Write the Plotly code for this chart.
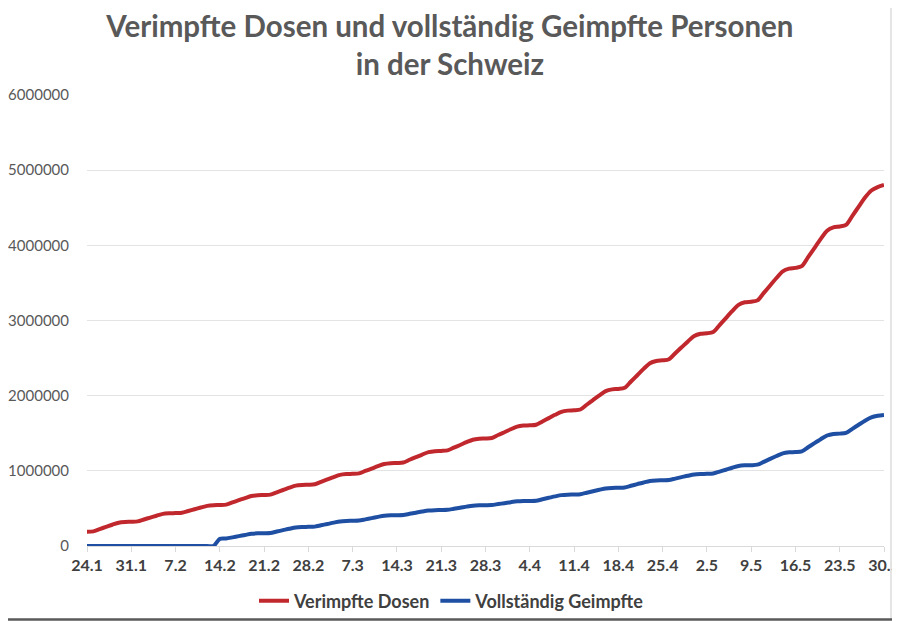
import pandas as pd
import plotly.graph_objects as go

dates = pd.date_range("2021-01-24", "2021-05-30", freq="D")

tick_dates = ["2021-01-24", "2021-01-31", "2021-02-07", "2021-02-14", "2021-02-21",
              "2021-02-28", "2021-03-07", "2021-03-14", "2021-03-21", "2021-03-28",
              "2021-04-04", "2021-04-11", "2021-04-18", "2021-04-25", "2021-05-02",
              "2021-05-09", "2021-05-16", "2021-05-23", "2021-05-30"]
tick_labels = ["24.1", "31.1", "7.2", "14.2", "21.2", "28.2", "7.3", "14.3", "21.3",
               "28.3", "4.4", "11.4", "18.4", "25.4", "2.5", "9.5", "16.5", "23.5", "30.5"]

# Verimpfte Dosen (in thousands), daily 24.1 - 30.5
verimpfte_dosen_k = [
    190,
    195, 225, 254, 283, 310, 320, 323,
    328, 353, 378, 403, 427, 435, 438,
    442, 466, 489, 512, 534, 543, 545,
    550, 580, 609, 638, 665, 675, 678,
    683, 715, 745, 776, 803, 812, 815,
    821, 853, 885, 917, 946, 957, 960,
    966, 998, 1030, 1062, 1091, 1102, 1105,
    1111, 1147, 1182, 1217, 1249, 1262, 1265,
    1272, 1308, 1344, 1381, 1414, 1427, 1430,
    1437, 1476, 1514, 1553, 1588, 1602, 1605,
    1613, 1657, 1701, 1745, 1785, 1801, 1805,
    1816, 1879, 1942, 2004, 2061, 2084, 2090,
    2105, 2189, 2272, 2356, 2432, 2462, 2470,
    2484, 2564, 2643, 2722, 2794, 2823, 2830,
    2847, 2939, 3032, 3124, 3208, 3242, 3250,
    3268, 3367, 3466, 3565, 3655, 3691, 3700,
    3722, 3843, 3964, 4085, 4195, 4239, 4250,
    4272, 4393, 4514, 4635, 4730, 4775, 4803,
]

# Vollständig Geimpfte (in thousands)
vollstaendig_geimpfte_k = [
    0,
    0, 0, 0, 0, 0, 0, 0,
    0, 0, 0, 0, 0, 0, 0,
    0, 0, 0, 0, 0, 0, 95,
    100, 115, 131, 147, 162, 168, 170,
    173, 192, 211, 230, 247, 253, 255,
    258, 276, 293, 311, 327, 333, 335,
    338, 354, 371, 388, 403, 409, 410,
    413, 428, 443, 458, 471, 477, 478,
    481, 495, 509, 524, 537, 542, 543,
    545, 558, 570, 583, 594, 599, 600,
    603, 622, 641, 660, 677, 683, 685,
    689, 709, 729, 748, 766, 773, 775,
    779, 801, 823, 845, 865, 873, 875,
    878, 897, 916, 935, 952, 958, 960,
    965, 990, 1015, 1041, 1064, 1073, 1075,
    1082, 1120, 1159, 1197, 1232, 1246, 1250,
    1260, 1314, 1368, 1421, 1470, 1490, 1495,
    1505, 1559, 1613, 1666, 1710, 1732, 1743,
]

y_ticks = [0, 1000000, 2000000, 3000000, 4000000, 5000000, 6000000]

red = "#C0282E"
blue = "#1E4FA3"

fig = go.Figure()
fig.add_trace(go.Scatter(
    x=dates, y=[v * 1000 for v in verimpfte_dosen_k], mode="lines",
    name="Verimpfte Dosen", line=dict(color=red, width=4, shape="spline", smoothing=0.8),
))
fig.add_trace(go.Scatter(
    x=dates, y=[v * 1000 for v in vollstaendig_geimpfte_k], mode="lines",
    name="Vollständig Geimpfte", line=dict(color=blue, width=4, shape="spline", smoothing=0.8),
))

# the page has an 8px body offset; target plot area on screen: x 87..884, y 95..546
OFF = 8

def px_x(p):
    return (p - 87) / 797.0

def px_y(p):
    return (546 - p) / 451.0

shapes = [
    dict(type="line", xref="paper", yref="paper", x0=px_x(891), x1=px_x(891), y0=px_y(0), y1=px_y(619),
         line=dict(color="#DDDDDD", width=1.5)),
    dict(type="line", xref="paper", yref="paper", x0=px_x(0), x1=px_x(900), y0=px_y(619.5), y1=px_y(619.5),
         line=dict(color="#595959", width=2.5)),
]

fig.update_layout(
    width=900, height=621,
    paper_bgcolor="white", plot_bgcolor="white",
    margin=dict(l=87 - OFF, r=900 - (884 - OFF), t=95 - OFF, b=621 - (546 - OFF), autoexpand=False),
    font=dict(family="Lato", color="#595959"),
    title=dict(
        text="<b>Verimpfte Dosen und vollständig Geimpfte Personen<br>in der Schweiz</b>",
        x=0.491, xanchor="center", xref="container",
        y=0.954, yanchor="top", yref="container",
        font=dict(family="Lato", size=29.5, color="#595959"),
        automargin=False,
    ),
    showlegend=True,
    legend=dict(
        orientation="h", x=246 / 900, xanchor="left", xref="container",
        y=0.045, yanchor="middle", yref="container",
        font=dict(family="Lato", size=18, color="#404040", weight="bold"),
        itemwidth=30, tracegroupgap=0, bgcolor="rgba(0,0,0,0)",
    ),
    shapes=shapes,
)

fig.update_xaxes(
    range=[dates[0], dates[-1]], automargin=False,
    tickmode="array", tickvals=pd.to_datetime(tick_dates), ticktext=tick_labels,
    showgrid=False, showline=True, linecolor="#D9D9D9", linewidth=1,
    ticks="outside", ticklen=5, tickcolor="#D9D9D9",
    tickfont=dict(family="Lato", size=16, color="#404040", weight="bold"),
    zeroline=False,
)
fig.update_yaxes(
    range=[0, 6000000], automargin=False,
    tickmode="array", tickvals=y_ticks, ticktext=[str(v) for v in y_ticks],
    showgrid=True, gridcolor="#E3E3E3", gridwidth=1,
    zeroline=False, showline=False,
    ticks="outside", ticklen=14, tickcolor="rgba(0,0,0,0)",
    tickfont=dict(family="Lato", size=15, color="#595959"),
)

fig.write_html("out.html")
